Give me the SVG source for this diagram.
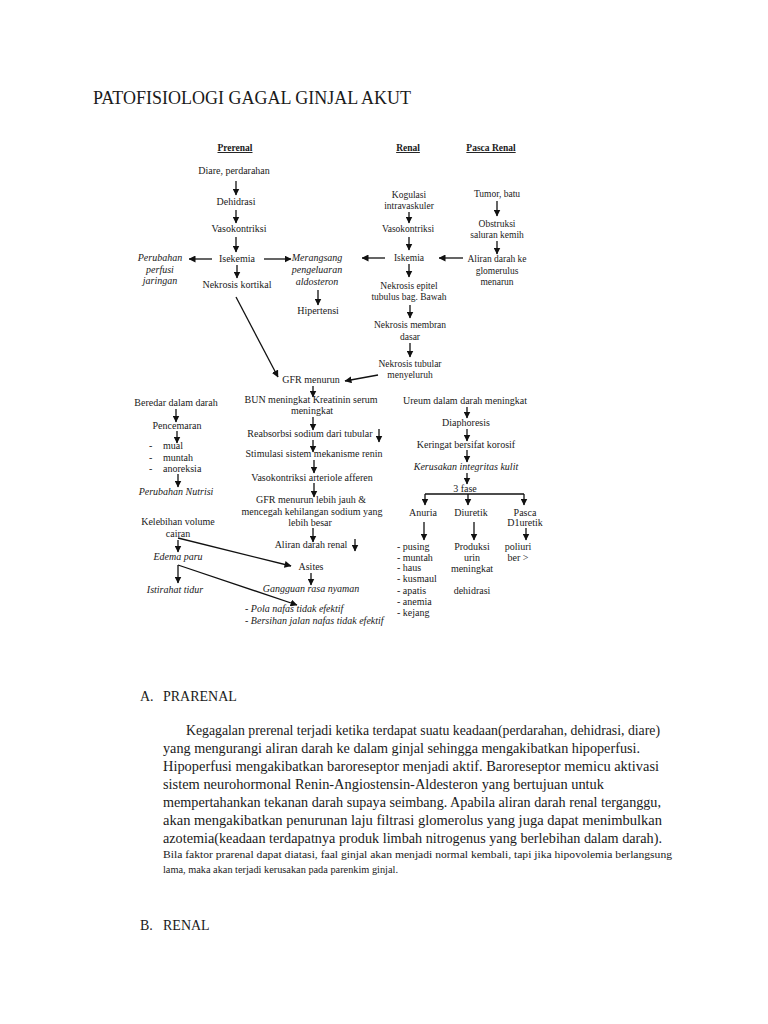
<svg xmlns="http://www.w3.org/2000/svg" width="768" height="1024" viewBox="0 0 768 1024">
<defs>
<marker id="ah" markerWidth="7" markerHeight="7" refX="6.5" refY="3.5" orient="auto" markerUnits="userSpaceOnUse">
<path d="M0,0 L7,3.5 L0,7 z" fill="#111"/>
</marker>
<style>
text{font-family:"Liberation Serif","Times New Roman",serif;fill:#1a1a1a}
.n{font-size:10px;text-anchor:middle}
.s{font-size:9.5px;text-anchor:middle}
.l{font-size:10px}
.i{font-style:italic}
.h{font-size:9.5px;font-weight:bold;text-anchor:middle;text-decoration:underline}
.p{font-size:14px}
.q{font-size:11px}
.c line,.c polyline{stroke:#111;stroke-width:1.3;fill:none;marker-end:url(#ah)}
.c .nm{marker-end:none}
</style>
</defs>
<rect width="768" height="1024" fill="#fff"/>
<text x="93" y="104" style="font-size:18px" textLength="318" lengthAdjust="spacingAndGlyphs">PATOFISIOLOGI GAGAL GINJAL AKUT</text>

<g id="headers">
<text class="h" x="235" y="151">Prerenal</text>
<text class="h" x="408" y="151">Renal</text>
<text class="h" x="491" y="151">Pasca Renal</text>
</g>

<g id="diare"><text class="n" x="234" y="174">Diare, perdarahan</text></g>
<g id="dehidrasi"><text class="n" x="236" y="205">Dehidrasi</text></g>
<g id="vaso1"><text class="n" x="239" y="232">Vasokontriksi</text></g>
<g id="isekemia"><text class="n" x="237" y="262">Isekemia</text></g>
<g id="perubahan-perfusi"><text class="n i" x="160" y="261">Perubahan</text><text class="n i" x="160" y="273">perfusi</text><text class="n i" x="160" y="284">jaringan</text></g>
<g id="merangsang"><text class="n i" x="317" y="261">Merangsang</text><text class="n i" x="317" y="273">pengeluaran</text><text class="n i" x="317" y="285">aldosteron</text></g>
<g id="hipertensi"><text class="n" x="318" y="314">Hipertensi</text></g>
<g id="nekrosis-kortikal"><text class="n" x="237" y="288">Nekrosis kortikal</text></g>

<g id="kogulasi"><text class="s" x="409" y="198">Kogulasi</text><text class="s" x="409" y="209">intravaskuler</text></g>
<g id="vaso2"><text class="s" x="408" y="232">Vasokontriksi</text></g>
<g id="iskemia"><text class="s" x="409" y="261">Iskemia</text></g>
<g id="nekrosis-epitel"><text class="s" x="409" y="289">Nekrosis epitel</text><text class="s" x="409" y="300">tubulus bag. Bawah</text></g>
<g id="nekrosis-membran"><text class="s" x="410" y="328">Nekrosis membran</text><text class="s" x="410" y="340">dasar</text></g>
<g id="nekrosis-tubular"><text class="s" x="410" y="367">Nekrosis tubular</text><text class="s" x="410" y="378">menyeluruh</text></g>

<g id="tumor"><text class="s" x="497" y="197">Tumor, batu</text></g>
<g id="obstruksi"><text class="s" x="497" y="227">Obstruksi</text><text class="s" x="497" y="238">saluran kemih</text></g>
<g id="aliran-glomerulus"><text class="s" x="497" y="262">Aliran darah ke</text><text class="s" x="497" y="274">glomerulus</text><text class="s" x="497" y="285">menarun</text></g>

<g id="gfr"><text class="n" x="311" y="383">GFR menurun</text></g>
<g id="bun"><text class="n" x="311" y="403">BUN meningkat Kreatinin serum</text><text class="n" x="312" y="414">meningkat</text></g>
<g id="reabsorbsi"><text class="n" x="310" y="437">Reabsorbsi sodium dari tubular</text></g>
<g id="stimulasi"><text class="n" x="314" y="457">Stimulasi sistem mekanisme renin</text></g>
<g id="vaso-arteriole"><text class="n" x="312" y="481">Vasokontriksi arteriole afferen</text></g>
<g id="gfr2"><text class="n" x="311" y="503">GFR menurun lebih jauh &amp;</text><text class="n" x="312" y="515">mencegah kehilangan sodium yang</text><text class="n" x="310" y="526">lebih besar</text></g>
<g id="aliran-renal"><text class="n" x="311" y="548">Aliran darah renal</text></g>
<g id="asites"><text class="n" x="311" y="570">Asites</text></g>
<g id="gangguan"><text class="n i" x="311" y="592">Gangguan rasa nyaman</text></g>
<g id="pola"><text class="l i" x="245" y="612">- Pola nafas tidak efektif</text><text class="l i" x="245" y="624">- Bersihan jalan nafas tidak efektif</text></g>

<g id="beredar"><text class="n" x="176" y="406">Beredar dalam darah</text></g>
<g id="pencemaran"><text class="n" x="177" y="429">Pencemaran</text></g>
<g id="gejala"><text class="l" x="149" y="449">-</text><text class="l" x="163" y="449">mual</text><text class="l" x="149" y="461">-</text><text class="l" x="163" y="461">muntah</text><text class="l" x="149" y="472">-</text><text class="l" x="163" y="472">anoreksia</text></g>
<g id="nutrisi"><text class="n i" x="176" y="495">Perubahan Nutrisi</text></g>
<g id="kelebihan"><text class="n" x="178" y="525">Kelebihan volume</text><text class="n" x="178" y="537">cairan</text></g>
<g id="edema"><text class="n i" x="178" y="560">Edema paru</text></g>
<g id="istirahat"><text class="n i" x="175" y="593">Istirahat tidur</text></g>

<g id="ureum"><text class="n" x="465" y="404">Ureum dalam darah meningkat</text></g>
<g id="diaphoresis"><text class="n" x="466" y="426">Diaphoresis</text></g>
<g id="keringat"><text class="n" x="466" y="448">Keringat bersifat korosif</text></g>
<g id="kerusakan"><text class="n i" x="466" y="470">Kerusakan integritas kulit</text></g>
<g id="fase"><text class="n" x="465" y="492">3 fase</text></g>
<g id="anuria"><text class="n" x="423" y="516">Anuria</text></g>
<g id="diuretik"><text class="n" x="471" y="516">Diuretik</text></g>
<g id="pasca"><text class="n" x="525" y="516">Pasca</text><text class="n" x="525" y="526">D1uretik</text></g>
<g id="anuria-gejala"><text class="l" x="397" y="550">- pusing</text><text class="l" x="397" y="561">- muntah</text><text class="l" x="397" y="571">- haus</text><text class="l" x="397" y="582">- kusmaul</text><text class="l" x="397" y="594">- apatis</text><text class="l" x="397" y="605">- anemia</text><text class="l" x="397" y="616">- kejang</text></g>
<g id="produksi"><text class="n" x="472" y="550">Produksi</text><text class="n" x="472" y="561">urin</text><text class="n" x="472" y="572">meningkat</text><text class="n" x="472" y="594">dehidrasi</text></g>
<g id="poliuri"><text class="n" x="518" y="550">poliuri</text><text class="n" x="518" y="561">ber &gt;</text></g>

<g id="connectors" class="c">
<line x1="236" y1="181" x2="236" y2="195"/>
<line x1="236" y1="210" x2="236" y2="223"/>
<line x1="236" y1="237" x2="236" y2="252"/>
<line x1="212" y1="259" x2="189" y2="259"/>
<line x1="264" y1="259" x2="291" y2="259"/>
<line x1="237" y1="265" x2="237" y2="278"/>
<line x1="318" y1="290" x2="318" y2="305"/>
<line x1="236" y1="297" x2="278" y2="377"/>
<line x1="409" y1="212" x2="409" y2="223"/>
<line x1="409" y1="237" x2="409" y2="250"/>
<line x1="385" y1="258" x2="362" y2="258"/>
<line x1="463" y1="258" x2="439" y2="258"/>
<line x1="409" y1="264" x2="409" y2="277"/>
<line x1="410" y1="305" x2="410" y2="318"/>
<line x1="410" y1="343" x2="410" y2="357"/>
<line x1="378" y1="375" x2="345" y2="381"/>
<line x1="497" y1="201" x2="497" y2="216"/>
<line x1="497" y1="241" x2="497" y2="254"/>
<line x1="313" y1="386" x2="313" y2="397"/>
<line x1="313" y1="417" x2="313" y2="430"/>
<line x1="379" y1="429" x2="379" y2="442"/>
<line x1="313" y1="440" x2="313" y2="452"/>
<line x1="314" y1="460" x2="314" y2="473"/>
<line x1="314" y1="483" x2="314" y2="497"/>
<line x1="313" y1="528" x2="313" y2="542"/>
<line x1="355" y1="539" x2="355" y2="551"/>
<line x1="311" y1="573" x2="311" y2="585"/>
<line x1="176" y1="409" x2="176" y2="422"/>
<line x1="177" y1="431" x2="177" y2="443"/>
<line x1="178" y1="474" x2="178" y2="487"/>
<line x1="178" y1="540" x2="178" y2="552"/>
<line x1="178" y1="538" x2="291" y2="566"/>
<line x1="178" y1="565" x2="178" y2="583"/>
<line x1="178" y1="565" x2="297" y2="605"/>
<line x1="467" y1="407" x2="467" y2="418"/>
<line x1="467" y1="429" x2="467" y2="441"/>
<line x1="467" y1="450" x2="467" y2="462"/>
<line x1="467" y1="473" x2="467" y2="484"/>
<line class="nm" x1="425" y1="494" x2="524" y2="494"/>
<line x1="425" y1="494" x2="425" y2="505"/>
<line x1="468" y1="494" x2="468" y2="505"/>
<line x1="524" y1="494" x2="524" y2="505"/>
<line x1="424" y1="522" x2="424" y2="540"/>
<line x1="474" y1="522" x2="474" y2="540"/>
<line x1="526" y1="528" x2="526" y2="540"/>
</g>

<g id="body">
<text class="p" x="140" y="701">A.</text>
<text class="p" x="163" y="701">PRARENAL</text>
<text class="p" x="186" y="735" textLength="474" lengthAdjust="spacingAndGlyphs">Kegagalan prerenal terjadi ketika terdapat suatu keadaan(perdarahan, dehidrasi, diare)</text>
<text class="p" x="163" y="753" textLength="477" lengthAdjust="spacingAndGlyphs">yang mengurangi aliran darah ke dalam ginjal sehingga mengakibatkan hipoperfusi.</text>
<text class="p" x="163" y="771" textLength="496" lengthAdjust="spacingAndGlyphs">Hipoperfusi mengakibatkan  baroreseptor menjadi aktif. Baroreseptor memicu aktivasi</text>
<text class="p" x="163" y="789" textLength="441" lengthAdjust="spacingAndGlyphs">sistem neurohormonal Renin-Angiostensin-Aldesteron yang bertujuan untuk</text>
<text class="p" x="163" y="807" textLength="498" lengthAdjust="spacingAndGlyphs">mempertahankan tekanan darah supaya seimbang. Apabila aliran darah renal terganggu,</text>
<text class="p" x="163" y="825" textLength="499" lengthAdjust="spacingAndGlyphs">akan mengakibatkan penurunan laju filtrasi glomerolus yang juga dapat menimbulkan</text>
<text class="p" x="163" y="843" textLength="499" lengthAdjust="spacingAndGlyphs">azotemia(keadaan terdapatnya produk limbah nitrogenus yang berlebihan dalam darah).</text>
<text class="q" x="163" y="858" textLength="509" lengthAdjust="spacingAndGlyphs">Bila faktor prarenal dapat diatasi, faal ginjal akan menjadi normal kembali, tapi jika hipovolemia berlangsung</text>
<text class="q" x="163" y="873" textLength="235" lengthAdjust="spacingAndGlyphs">lama, maka akan terjadi kerusakan pada parenkim ginjal.</text>
<text class="p" x="140" y="930">B.</text>
<text class="p" x="163" y="930">RENAL</text>
</g>
</svg>
